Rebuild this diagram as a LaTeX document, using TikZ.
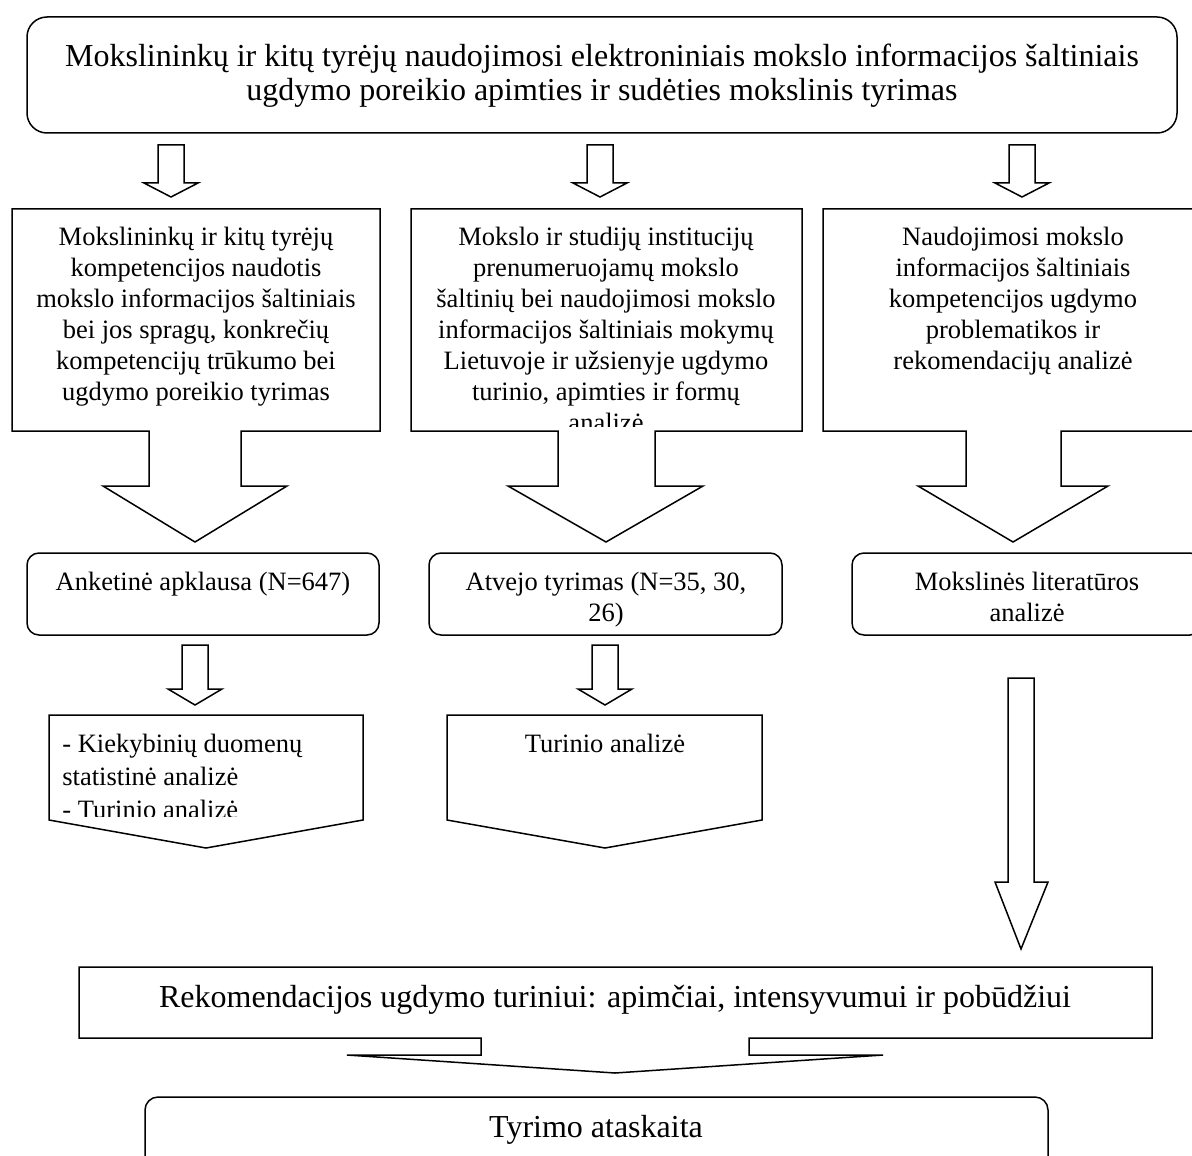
\documentclass[tikz,border=0pt]{standalone}
\usepackage{fontspec}
\setmainfont{Liberation Serif}

\begin{document}
\begin{tikzpicture}[x=0.5pt,y=-0.5pt,
  frame/.style={draw,black,line width=0.75pt,fill=white},
  bigtxt/.style={font=\fontsize{16}{17}\selectfont,inner sep=0pt},
  txt/.style={font=\fontsize{13.25}{15.5}\selectfont,inner sep=0pt}]
\useasboundingbox (0,0) rectangle (1192,1155);
\clip (0,0) rectangle (1192,1155);

% top box
\draw [frame,rounded corners=10pt] (27,17) rectangle (1177,133);
\node [bigtxt,anchor=north,align=center] (tyrimas) at (602,42) {\strut Mokslininkų ir kitų tyrėjų naudojimosi elektroniniais mokslo informacijos šaltiniais\\ugdymo poreikio apimties ir sudėties mokslinis tyrimas};

\draw [frame] (158,145) -- (184,145) -- (184,183) -- (198,183) -- (171,197) -- (144,183) -- (158,183) -- cycle;
\draw [frame] (587,145) -- (613,145) -- (613,183) -- (627,183) -- (600,197) -- (573,183) -- (587,183) -- cycle;
\draw [frame] (1009,145) -- (1035,145) -- (1035,183) -- (1049,183) -- (1022,197) -- (995,183) -- (1009,183) -- cycle;

% second row, boxes with arrows
\draw [frame] (12,209) -- (380,209) -- (380,431) -- (241,431) -- (241,486) -- (287,486) -- (195,542) -- (103,486) -- (149,486) -- (149,431) -- (12,431) -- cycle;
\draw [frame] (411,209) -- (802,209) -- (802,431) -- (655,431) -- (655,486) -- (703,486) -- (606,542) -- (508,486) -- (558,486) -- (558,431) -- (411,431) -- cycle;
\draw [frame] (823,209) -- (1203,209) -- (1203,431) -- (1061,431) -- (1061,486) -- (1108,486) -- (1013,542) -- (918,486) -- (966,486) -- (966,431) -- (823,431) -- cycle;

\node [txt,anchor=north,align=center] (kompetencija) at (196,223) {\strut Mokslininkų ir kitų tyrėjų\\kompetencijos naudotis\\mokslo informacijos šaltiniais\\bei jos spragų, konkrečių\\kompetencijų trūkumo bei\\ugdymo poreikio tyrimas};
\begin{scope}
\clip (411,209) rectangle (802,426);
\node [txt,anchor=north,align=center] (institucijos) at (606,223) {\strut Mokslo ir studijų institucijų\\prenumeruojamų mokslo\\šaltinių bei naudojimosi mokslo\\informacijos šaltiniais mokymų\\Lietuvoje ir užsienyje ugdymo\\turinio, apimties ir formų\\analizė};
\end{scope}
\node [txt,anchor=north,align=center] (problematika) at (1013,223) {\strut Naudojimosi mokslo\\informacijos šaltiniais\\kompetencijos ugdymo\\problematikos ir\\rekomendacijų analizė};

% third row
\draw [frame,rounded corners=6pt] (27,553) rectangle (379,635);
\draw [frame,rounded corners=6pt] (429,553) rectangle (782,635);
\draw [frame,rounded corners=6pt] (852,553) rectangle (1202,635);

\node [txt,anchor=base] (apklausa) at (203,590) {Anketinė apklausa (N=647)};
\begin{scope}
\clip (429,553) rectangle (782,632);
\node [txt,anchor=north,align=center] (atvejo) at (606,568) {\strut Atvejo tyrimas (N=35, 30,\\26)};
\end{scope}
\node [txt,anchor=north,align=center] (literatura) at (1027,568) {\strut Mokslinės literatūros\\analizė};

\draw [frame] (182,645) -- (208,645) -- (208,689) -- (222,689) -- (195,705) -- (168,689) -- (182,689) -- cycle;
\draw [frame] (592,645) -- (618,645) -- (618,689) -- (632,689) -- (605,705) -- (578,689) -- (592,689) -- cycle;

% fourth row
\draw [frame] (49,715) -- (363,715) -- (363,820) -- (206,848) -- (49,820) -- cycle;
\draw [frame] (447,715) -- (762,715) -- (762,820) -- (605,848) -- (447,820) -- cycle;

\begin{scope}
\clip (49,715) rectangle (363,816);
\node [txt,anchor=north west,align=left,font=\fontsize{13.25}{16.5}\selectfont] (kiekybine) at (62,729) {\strut - Kiekybinių duomenų\\statistinė analizė\\- Turinio analizė};
\end{scope}
\node [txt,anchor=base] (turinys) at (605,752) {Turinio analizė};

\draw [frame] (1008,678) -- (1034,678) -- (1034,882) -- (1048,882) -- (1021,949) -- (995,882) -- (1008,882) -- cycle;

% bottom
\draw [frame] (79,967) -- (1152,967) -- (1152,1038) -- (749,1038) -- (749,1055) -- (883,1055) -- (615,1073) -- (347,1055) -- (481,1055) -- (481,1038) -- (79,1038) -- cycle;
\node [bigtxt,anchor=base] (rekomendacijos) at (615,1007) {Rekomendacijos ugdymo turiniui: apimčiai, intensyvumui ir pobūdžiui};

\draw [frame,rounded corners=6.5pt] (145,1097) rectangle (1048,1190);
\node [bigtxt,anchor=base] (ataskaita) at (596,1137) {Tyrimo ataskaita};

\end{tikzpicture}
\end{document}
